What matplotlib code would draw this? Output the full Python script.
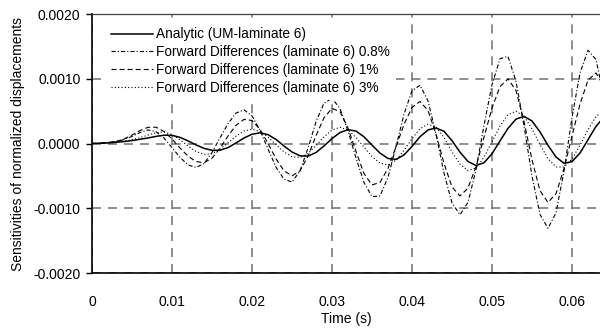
import numpy as np
import matplotlib
matplotlib.use('Agg')
import matplotlib.pyplot as plt
from matplotlib.ticker import FuncFormatter

plt.rcParams['font.family'] = ['Liberation Sans', 'DejaVu Sans']
plt.rcParams['font.size'] = 10
plt.rcParams['lines.scale_dashes'] = False

# time grid (s), one sample per millisecond
time = np.round(np.arange(65) * 0.001, 3)

# sensitivities, in units of 1e-3
analytic = [0, 0.003, 0.01, 0.02, 0.03, 0.045, 0.065, 0.085, 0.11, 0.128,
            0.126, 0.095, 0.041, -0.021, -0.075, -0.105, -0.104, -0.063, 0.008, 0.085,
            0.143, 0.165, 0.137, 0.063, -0.038, -0.131, -0.19, -0.195, -0.139, -0.038,
            0.076, 0.169, 0.214, 0.192, 0.103, -0.024, -0.148, -0.231, -0.246, -0.177,
            -0.045, 0.105, 0.21, 0.24, 0.188, 0.044, -0.134, -0.278, -0.34, -0.297,
            -0.158, 0.04, 0.234, 0.377, 0.42, 0.348, 0.179, -0.029, -0.208, -0.305,
            -0.28, -0.147, 0.059, 0.264, 0.41]
fd_08 = [0, 0.005, 0.015, 0.03, 0.06, 0.11, 0.17, 0.21, 0.183, 0.085,
         -0.064, -0.213, -0.33, -0.37, -0.31, -0.139, 0.086, 0.306, 0.47, 0.52,
         0.427, 0.206, -0.085, -0.365, -0.55, -0.595, -0.423, -0.073, 0.336, 0.622,
         0.698, 0.54, 0.196, -0.222, -0.602, -0.82, -0.811, -0.524, -0.047, 0.452,
         0.815, 0.90, 0.659, 0.146, -0.457, -0.919, -1.10, -0.91, -0.405, 0.279,
         0.909, 1.31, 1.345, 0.96, 0.277, -0.503, -1.095, -1.31, -1.07, -0.427,
         0.401, 1.09, 1.44, 1.297, 0.712]
fd_1 = [0, 0.005, 0.015, 0.03, 0.07, 0.13, 0.2, 0.25, 0.252, 0.186,
        0.07, -0.069, -0.194, -0.278, -0.298, -0.227, -0.072, 0.115, 0.281, 0.372,
        0.356, 0.219, 0.002, -0.236, -0.421, -0.5, -0.424, -0.196, 0.12, 0.397,
        0.542, 0.494, 0.238, -0.122, -0.464, -0.639, -0.602, -0.384, -0.052, 0.295,
        0.556, 0.65, 0.51, 0.146, -0.306, -0.671, -0.81, -0.689, -0.357, 0.095,
        0.548, 0.879, 1.0, 0.818, 0.341, -0.251, -0.729, -0.91, -0.774, -0.39,
        0.116, 0.61, 0.978, 1.09, 0.889]
fd_3 = [0, 0.002, 0.008, 0.018, 0.035, 0.06, 0.09, 0.13, 0.165, 0.179,
        0.141, 0.059, -0.039, -0.123, -0.168, -0.156, -0.09, 0.009, 0.114, 0.192,
        0.22, 0.188, 0.099, -0.018, -0.13, -0.204, -0.216, -0.154, -0.032, 0.1,
        0.208, 0.25, 0.209, 0.093, -0.056, -0.202, -0.303, -0.329, -0.258, -0.106,
        0.073, 0.228, 0.298, 0.256, 0.095, -0.128, -0.319, -0.417, -0.377, -0.213,
        0.027, 0.27, 0.445, 0.50, 0.419, 0.227, -0.015, -0.235, -0.362, -0.364,
        -0.24, -0.025, 0.214, 0.417, 0.514]

labels = ['Analytic (UM-laminate 6)',
          'Forward Differences (laminate 6) 0.8%',
          'Forward Differences (laminate 6) 1%',
          'Forward Differences (laminate 6) 3%']
xticks = [0, 0.01, 0.02, 0.03, 0.04, 0.05, 0.06]
yticks = [-0.002, -0.001, 0, 0.001, 0.002]

fig = plt.figure(figsize=(6, 3.32), dpi=100)
ax = fig.add_axes([0.1533, 0.1777, 0.8467, 0.7801])

ax.plot(time, np.array(analytic) * 1e-3, color='black', lw=1.1, ls='-', label=labels[0])
ax.plot(time, np.array(fd_08) * 1e-3, color='black', lw=0.8, ls=(0, (3, 1.5, 0.8, 1.5)), label=labels[1])
ax.plot(time, np.array(fd_1) * 1e-3, color='black', lw=0.8, ls=(0, (3.6, 2.2)), label=labels[2])
ax.plot(time, np.array(fd_3) * 1e-3, color='black', lw=0.8, ls=(0, (0.8, 1.6)), label=labels[3])

ax.set_xlim(0, 0.0635)
ax.set_ylim(-0.002, 0.002)
ax.set_xticks(xticks)
ax.set_yticks(yticks)
ax.xaxis.set_major_formatter(FuncFormatter(lambda v, p: '0' if v == 0 else '%.2f' % v))
ax.yaxis.set_major_formatter(FuncFormatter(lambda v, p: '%.4f' % v))
ax.tick_params(axis='x', length=0, pad=16)
ax.tick_params(axis='y', length=4.3, width=1, pad=4, direction='out')

ax.grid(True, color='#707070', lw=1.1, ls=(0, (6.5, 5)))
ax.set_axisbelow(True)

ax.spines['right'].set_visible(False)
ax.spines['top'].set_color('#444444')
ax.spines['top'].set_linewidth(0.9)
ax.spines['left'].set_linewidth(1.2)
ax.spines['bottom'].set_linewidth(1.2)

ax.set_xlabel('Time (s)')
ax.xaxis.set_label_coords(0.5, -0.152)
ax.set_ylabel('Sensitivities of normalized displacements')
ax.yaxis.set_label_coords(-0.132, 0.5)

leg = ax.legend(loc='upper left', bbox_to_anchor=(0.026, 0.969), frameon=True,
                fancybox=False, facecolor='white', edgecolor='none', framealpha=1,
                borderaxespad=0, borderpad=0.4, handlelength=3.1, handletextpad=0.25,
                labelspacing=0.27, fontsize=9.8)

fig.savefig('out.png', dpi=100)
